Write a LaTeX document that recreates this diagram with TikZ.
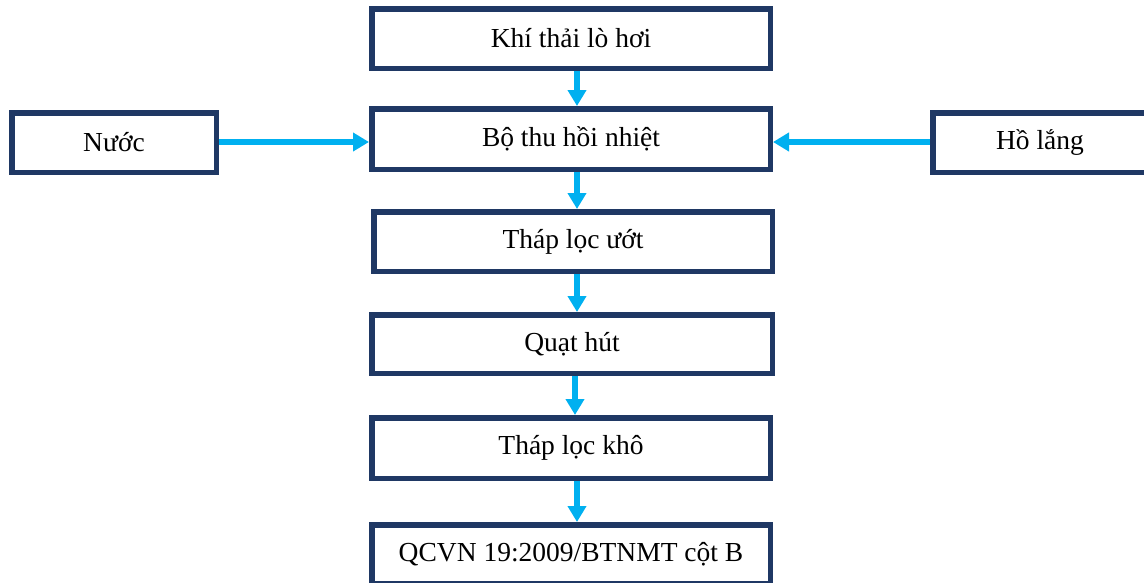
\documentclass[tikz,border=0pt]{standalone}
\usepackage{fontspec}
\setmainfont{Liberation Serif}
\usetikzlibrary{arrows.meta}
\definecolor{navy}{RGB}{31,56,100}
\definecolor{flow}{RGB}{0,176,240}
\tikzset{
  box/.style={draw=navy, line width=5.5pt, fill=white, rectangle, inner sep=0pt,
    font=\fontsize{27.5}{32}\selectfont, text=black},
  mainbox/.style={box, minimum width=398.5pt, minimum height=59.5pt},
  sidebox/.style={box, minimum height=59.5pt},
  arr/.style={draw=flow, line width=6.5pt, -{Triangle[width=18pt,length=16pt]}}
}
\begin{document}
\begin{tikzpicture}[x=1pt,y=-1pt]
\useasboundingbox (0,0) rectangle (1144,582);
\node[mainbox] (b1) at (571,38.5) {Khí thải lò hơi};
\node[mainbox, minimum height=60.5pt] (b2) at (571,139) {Bộ thu hồi nhiệt};
\node[mainbox] (b3) at (573,241.5) {Tháp lọc ướt};
\node[mainbox, minimum width=400.5pt, minimum height=58.5pt] (b4) at (572,344) {Quạt hút};
\node[mainbox, minimum height=60.5pt] (b5) at (571,448) {Tháp lọc khô};
\node[mainbox, minimum height=58.5pt] (b6) at (571,554) {QCVN 19:2009/BTNMT cột B};
\node[sidebox, minimum width=204.5pt] (nuoc) at (114,142.5) {Nước};
\node[sidebox, minimum width=214.5pt] (ho) at (1040,142.5) {Hồ lắng};
\coordinate (ax) at (577,0);
\coordinate (bx) at (575,0);
\coordinate (hy) at (0,142);
\draw[arr] (b1.south -| ax) -- (b2.north -| ax);
\draw[arr] (b2.south -| ax) -- (b3.north -| ax);
\draw[arr] (b3.south -| ax) -- (b4.north -| ax);
\draw[arr] (b4.south -| bx) -- (b5.north -| bx);
\draw[arr] (b5.south -| ax) -- (b6.north -| ax);
\draw[arr] (nuoc.east |- hy) -- (b2.west |- hy);
\draw[arr] (ho.west |- hy) -- (b2.east |- hy);
\end{tikzpicture}
\end{document}
